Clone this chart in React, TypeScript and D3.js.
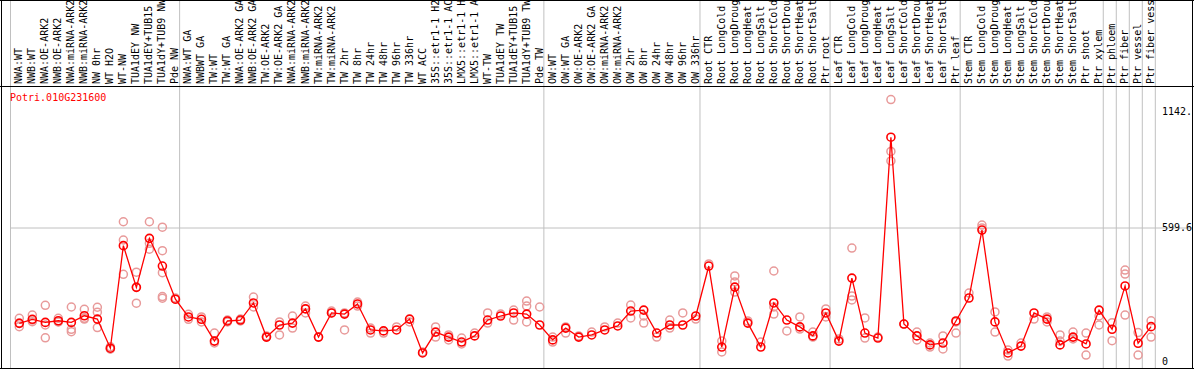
import React from 'react';
import * as d3 from 'd3';

const geneId = 'Potri.010G231600';

const categories = [
  'NWA:WT', 'NWB:WT', 'NWA:OE-ARK2', 'NWB:OE-ARK2', 'NWA:miRNA-ARK2', 'NWB:miRNA-ARK2', 'NW 0hr', 'WT H2O', 'WT-NW',
  'TUA1dEY NW', 'TUA1dEY+TUB15 NW', 'TUA1dY+TUB9 NW', 'Pde NW',
  'NWA:WT GA', 'NWBWT GA', 'TW:WT', 'TW:WT GA', 'NWA:OE-ARK2 GA', 'NWB:OE-ARK2 GA', 'TW:OE-ARK2', 'TW:OE-ARK2 GA',
  'NWA:miRNA-ARK2', 'NWB:miRNA-ARK2', 'TW:miRNA-ARK2', 'TW:miRNA-ARK2', 'TW 2hr', 'TW 8hr', 'TW 24hr', 'TW 48hr',
  'TW 96hr', 'TW 336hr', 'WT ACC', '35S::etr1-1 H2O', '35S::etr1-1 ACC', 'LMX5::etr1-1 H2O', 'LMX5::etr1-1 ACC',
  'WT-TW', 'TUA1dEY TW', 'TUA1dEY+TUB15 TW', 'TUA1dY+TUB9 TW', 'Pde TW',
  'OW:WT', 'OW:WT GA', 'OW:OE-ARK2', 'OW:OE-ARK2 GA', 'OW:miRNA-ARK2', 'OW:miRNA-ARK2', 'OW 2hr', 'OW 8hr',
  'OW 24hr', 'OW 48hr', 'OW 96hr', 'OW 336hr',
  'Root CTR', 'Root LongCold', 'Root LongDrought', 'Root LongHeat', 'Root LongSalt', 'Root ShortCold',
  'Root ShortDrought', 'Root ShortHeat', 'Root ShortSalt', 'Ptr root',
  'Leaf CTR', 'Leaf LongCold', 'Leaf LongDrought', 'Leaf LongHeat', 'Leaf LongSalt', 'Leaf ShortCold',
  'Leaf ShortDrought', 'Leaf ShortHeat', 'Leaf ShortSalt', 'Ptr leaf',
  'Stem CTR', 'Stem LongCold', 'Stem LongDrought', 'Stem LongHeat', 'Stem LongSalt', 'Stem ShortCold',
  'Stem ShortDrought', 'Stem ShortHeat', 'Stem ShortSalt', 'Ptr shoot', 'Ptr xylem',
  'Ptr phloem', 'Ptr fiber', 'Ptr vessel', 'Ptr fiber vessel',
];

const means = [
  197, 214, 201, 208, 201, 229, 215, 92, 525, 349, 556, 439, 299,
  224, 214, 122, 207, 211, 283, 139, 190, 198, 258, 139, 241, 236, 279, 169, 165,
  169, 215, 72, 160, 139, 118, 144, 211, 228, 241, 236, 190,
  127, 177, 139, 148, 169, 186, 249, 253, 156, 190, 190, 228,
  439, 97, 350, 198, 97, 283, 211, 182, 144, 241,
  122, 388, 156, 135, 983, 194, 144, 106, 114, 207,
  304, 591, 203, 72, 101, 241, 215, 106, 139, 110, 253,
  172, 355, 113, 183,
];

const replicates = [
  [218, 183, 198], [232, 204, 211], [273, 190, 136], [218, 204, 203], [266, 172, 162], [256, 218, 215],
  [265, 244, 179], [98, 89, 89], [626, 549, 404], [413, 282, 350], [626, 535, 510], [603, 504, 411, 310, 303],
  [304, 299],
  [235, 214], [224, 203], [156, 114], [211, 203], [215, 207], [308, 266], [139, 144], [203, 148],
  [228, 177], [270, 241], [139], [249, 241], [169, 241], [287, 270], [177, 156], [156],
  [182], [203], [76], [182, 139], [148, 127], [135, 110], [156], [241, 198], [236], [253, 211],
  [291, 270, 203], [266],
  [139, 118], [182, 156], [144], [160], [182], [198], [274, 220], [228, 198], [139], [211, 177], [241], [215],
  [448], [122, 76], [397, 372, 329], [207], [118], [418, 266, 236], [165], [224, 173], [160, 139], [258, 224],
  [131], [515, 312, 296], [220, 135], [139], [1142.1, 923, 883], [194], [160, 127], [114, 97], [144, 89],
  [203, 156],
  [325], [612, 600], [245, 160], [84, 59], [114], [215], [224, 203], [148, 122], [160, 131], [156, 63],
  [228, 190],
  [200, 124], [422, 405, 232], [158, 63], [208, 139],
];

const groupBreaks = [0, 13, 41, 53, 63, 73, 84, 85, 86, 87, 88];
const yMax = 1142.1;
const yTickValues = [0, 599.6, 1142.1];
const yTickLabels = ['0', '599.6', '1142.'];

export default function App() {
  const W = 1194;
  const H = 370;
  const font = "'DejaVu Sans Mono', monospace";
  const x = d3
    .scaleBand<number>()
    .domain(d3.range(categories.length))
    .range([10.5, 1155.3]);
  const y = d3.scaleLinear().domain([0, yMax * 1.05]).range([370, 86]);
  const px = (i: number) => (x(i) as number) + 8.8;
  const line = d3
    .line<number>()
    .x((_, i) => px(i))
    .y((d) => y(d));
  const labelDy = [-5, 3, 15.5];

  return (
    <svg
      width={W}
      height={H}
      style={{ position: 'absolute', left: 0, top: 0, background: '#fff' }}
      fontFamily={font}
    >
      <rect x={0} y={0} width={W} height={H} fill="#fff" />
      {/* vertical group separators */}
      {groupBreaks.map((g) => {
        const gx = g < categories.length ? (x(g) as number) : 1155.3;
        return (
          <line key={'g' + g} x1={gx} x2={gx} y1={0} y2={368} stroke="#c0c0c0" strokeWidth={1} />
        );
      })}
      {/* horizontal mid gridline */}
      <line x1={10.5} x2={1193} y1={y(yTickValues[1])} y2={y(yTickValues[1])} stroke="#c0c0c0" strokeWidth={1} />
      {/* frame */}
      <line x1={0} x2={W} y1={0.5} y2={0.5} stroke="#000" strokeWidth={1} />
      <line x1={0} x2={W} y1={86.5} y2={86.5} stroke="#000" strokeWidth={1} />
      <line x1={0} x2={W} y1={368.5} y2={368.5} stroke="#000" strokeWidth={1} />
      <line x1={1.5} x2={1.5} y1={0} y2={369} stroke="#000" strokeWidth={1} />
      <line x1={1192.5} x2={1192.5} y1={0} y2={369} stroke="#000" strokeWidth={1} />
      {/* category labels */}
      {categories.map((c, i) => (
        <text
          key={'c' + i}
          transform={`translate(${px(i) + 3},84) rotate(-90)`}
          fontSize={10}
          fill="#000"
        >
          {c}
        </text>
      ))}
      {/* title */}
      <text x={10} y={101} fontSize={10} fill="#ff0000">
        {geneId}
      </text>
      {/* y labels */}
      {yTickValues.map((v, k) => (
        <text key={'t' + k} x={1162} y={y(v) + labelDy[k]} fontSize={10} fill="#000">
          {yTickLabels[k]}
        </text>
      ))}
      {/* replicates */}
      {replicates.map((reps, i) =>
        reps.map((r, j) => (
          <circle
            key={'r' + i + '_' + j}
            cx={px(i)}
            cy={y(r)}
            r={4}
            fill="none"
            stroke="#e89a9a"
            strokeWidth={1.5}
          />
        ))
      )}
      {/* mean line */}
      <path d={line(means) || ''} fill="none" stroke="#ff0000" strokeWidth={1.3} />
      {means.map((m, i) => (
        <circle key={'m' + i} cx={px(i)} cy={y(m)} r={4} fill="none" stroke="#ff0000" strokeWidth={1.6} />
      ))}
    </svg>
  );
}
